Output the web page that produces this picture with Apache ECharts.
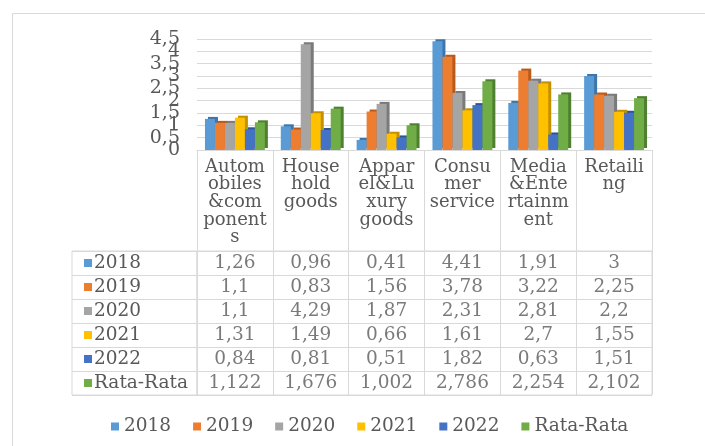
<!DOCTYPE html>
<html><head><meta charset="utf-8">
<script src="https://cdn.jsdelivr.net/npm/echarts@6/dist/echarts.min.js"></script>
<style>html,body{margin:0;padding:0;background:#fff}#c{width:705px;height:446px}</style>
</head><body><div id="c"></div>
<script>
var categories = ["Autom\nobiles\n&com\nponent\ns", "House\nhold\ngoods", "Appar\nel&Lu\nxury\ngoods", "Consu\nmer\nservice", "Media\n&Ente\nrtainm\nent", "Retaili\nng"];
var seriesNames = ["2018", "2019", "2020", "2021", "2022", "Rata-Rata"];
var y2018 = [1.26, 0.96, 0.41, 4.41, 1.91, 3];
var y2019 = [1.1, 0.83, 1.56, 3.78, 3.22, 2.25];
var y2020 = [1.1, 4.29, 1.87, 2.31, 2.81, 2.2];
var y2021 = [1.31, 1.49, 0.66, 1.61, 2.7, 1.55];
var y2022 = [0.84, 0.81, 0.51, 1.82, 0.63, 1.51];
var rataRata = [1.122, 1.676, 1.002, 2.786, 2.254, 2.102];
var yMin = 0, yMax = 4.5, yStep = 0.5;

var allData = [y2018, y2019, y2020, y2021, y2022, rataRata];
var colors = ["#5B9BD5", "#ED7D31", "#A5A5A5", "#FFC000", "#4472C4", "#70AD47"];
var darks = ["#3d76aa", "#b85a1c", "#7a7a7a", "#c29100", "#2f5597", "#4f7f31"];
var FONT = "DejaVu Serif";
var TXT = "#595959";
var LINE = "#d9d9d9";
function comma(v){ return String(v).replace('.', ','); }
function isWhole(v){ return Math.abs(v - Math.round(v)) < 1e-9; }

var chart = echarts.init(document.getElementById('c'), null, {renderer:'canvas'});

var series = [];
seriesNames.forEach(function(n, s){
  series.push({
    name: n, type: 'bar', xAxisIndex: 0, yAxisIndex: 0,
    data: allData[s], barGap: '0%', barCategoryGap: '21%',
    itemStyle: {color: colors[s], shadowColor: darks[s], shadowOffsetX: 3, shadowOffsetY: -2, shadowBlur: 0},
    emphasis: {disabled: true}, animation: false
  });
});
var cells = [];
allData.forEach(function(arr, r){ arr.forEach(function(v, i){ cells.push([i, r, v]); }); });
series.push({
  type: 'scatter', xAxisIndex: 1, yAxisIndex: 1, data: cells, symbolSize: 1,
  itemStyle: {color: 'transparent'}, silent: true, animation: false,
  label: {show: true, position: 'inside', formatter: function(p){ return comma(p.value[2]); },
          fontFamily: FONT, fontSize: 18.5, color: TXT}
});

var rich = {t: {fontFamily: FONT, fontSize: 18.5, color: TXT, padding: [0,0,0,2]}};
colors.forEach(function(c, i){ rich['m'+i] = {width: 8, height: 8, backgroundColor: c}; });

var yLabelBase = {margin: 17, fontFamily: FONT, fontSize: 19, color: TXT, interval: 0,
                  hideOverlap: false, showMinLabel: true, showMaxLabel: true};

chart.setOption({
  animation: false,
  graphic: [{type: 'rect', shape: {x: 12.5, y: 13.5, width: 900, height: 600}, style: {fill: 'none', stroke: LINE, lineWidth: 1}, silent: true}],
  legend: {
    data: seriesNames, left: 106, top: 412, icon: 'rect', itemWidth: 8, itemHeight: 8, itemGap: 22,
    textStyle: {fontFamily: FONT, fontSize: 18.5, color: TXT}
  },
  grid: [
    {left: 197, right: 53, top: 39, bottom: 296},
    {left: 197, right: 53, top: 251, bottom: 51, show: true, borderColor: LINE, borderWidth: 1, backgroundColor: 'transparent'},
    {left: 72, width: 125, top: 251, bottom: 51, show: true, borderColor: LINE, borderWidth: 1, backgroundColor: 'transparent'}
  ],
  xAxis: [
    {type: 'category', gridIndex: 0, data: categories,
     axisLine: {show: true, lineStyle: {color: LINE}},
     axisTick: {show: true, length: 101, lineStyle: {color: LINE}},
     axisLabel: {interval: 0, margin: 8, fontFamily: FONT, fontSize: 18, lineHeight: 17.7, color: TXT, align: 'center', verticalAlign: 'top'}},
    {type: 'category', gridIndex: 1, data: categories,
     axisLine: {show: false}, axisTick: {show: false}, axisLabel: {show: false},
     splitLine: {show: true, interval: 0, lineStyle: {color: LINE}}},
    {type: 'value', gridIndex: 2, show: false}
  ],
  yAxis: [
    {type: 'value', gridIndex: 0, min: yMin, max: yMax, interval: yStep,
     axisLine: {show: false}, axisTick: {show: false},
     splitLine: {lineStyle: {color: LINE}},
     axisLabel: Object.assign({}, yLabelBase, {formatter: function(v){ return isWhole(v) ? comma(v) : ''; }})},
    {type: 'category', gridIndex: 1, data: seriesNames, inverse: true,
     axisLine: {show: false}, axisTick: {show: false}, axisLabel: {show: false},
     splitLine: {show: true, interval: 0, lineStyle: {color: LINE}}},
    {type: 'category', gridIndex: 2, data: seriesNames, inverse: true,
     axisLine: {show: false}, axisTick: {show: false},
     splitLine: {show: true, interval: 0, lineStyle: {color: LINE}},
     axisLabel: {inside: true, interval: 0, margin: 12, align: 'left',
       formatter: function(v){ var i = seriesNames.indexOf(v); return '{m'+i+'|}{t|'+v+'}'; },
       rich: rich}},
    {type: 'value', gridIndex: 0, position: 'left', min: yMin, max: yMax, interval: yStep,
     axisLine: {show: false}, axisTick: {show: false}, splitLine: {show: false},
     axisLabel: Object.assign({}, yLabelBase, {formatter: function(v){ return isWhole(v) ? '' : comma(v); }})}
  ],
  series: series
});
</script></body></html>
